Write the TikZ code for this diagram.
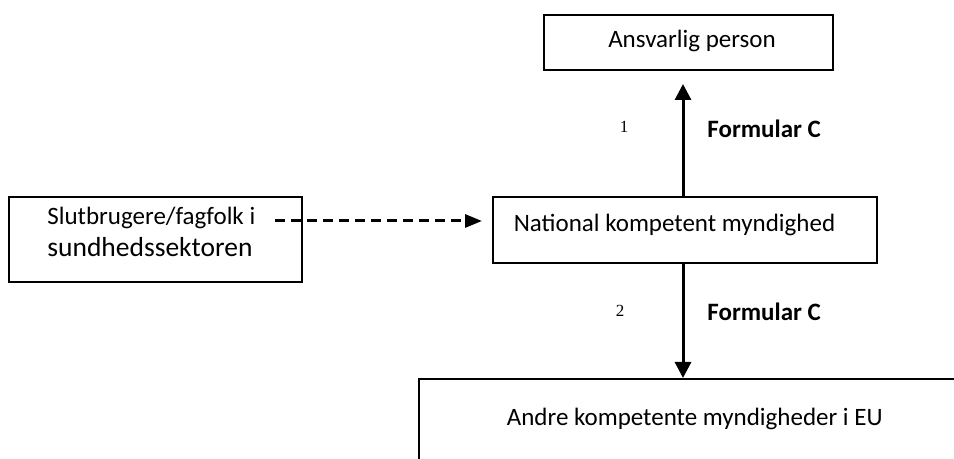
\documentclass[tikz,border=0pt]{standalone}
\usepackage{fontspec}
\setmainfont{Carlito}
\newfontfamily\numfont{Liberation Serif}
\usetikzlibrary{arrows.meta}
\begin{document}
\begin{tikzpicture}[x=0.5pt,y=-0.5pt,
  boxnode/.style={draw=black,line width=1pt,inner sep=0pt,fill=none},
  txt/.style={inner sep=0pt,font=\fontsize{12.5}{15}\selectfont},
  bigtxt/.style={inner sep=0pt,font=\fontsize{13.75}{16}\selectfont},
  numtxt/.style={inner sep=0pt,font=\numfont\fontsize{8.5}{10}\selectfont},
  formtxt/.style={inner sep=0pt,font=\bfseries\fontsize{12.5}{15}\selectfont},
  solidarrow/.style={line width=1.5pt,-{Triangle[length=8pt,width=8pt]}},
  dasharrow/.style={line width=1.5pt,dash pattern=on 5pt off 3pt,-{Triangle[length=8.5pt,width=6.5pt]}}]
\clip (0,0) rectangle (954,459);
\useasboundingbox (0,0) rectangle (954,459);
% boxes
\node[boxnode,minimum width=144.5pt,minimum height=27.5pt] (ans) at (688.5,42.5) {};
\node[boxnode,minimum width=192pt,minimum height=33pt] (nat) at (685,230) {};
\node[boxnode,minimum width=146.5pt,minimum height=42.5pt] (slut) at (155.5,239.5) {};
\node[boxnode,minimum width=290.5pt,minimum height=70.5pt] (andre) at (709.5,449.5) {};
% texts
\node[txt,anchor=base] (anst) at (692,48) {Ansvarlig person};
\node[txt,anchor=base] (natt) at (674.5,232) {National kompetent myndighed};
\node[txt,anchor=base west] (l1) at (47,225) {Slutbrugere/fagfolk i};
\node[bigtxt,anchor=base west] (l2) at (47,257) {sundhedssektoren};
\node[txt,anchor=base east] (andret) at (883,426) {Andre kompetente myndigheder i EU};
\node[numtxt,anchor=base] (n1) at (624,133) {1};
\node[numtxt,anchor=base] (n2) at (620,317) {2};
\node[formtxt,anchor=base west] (f1) at (707,138) {Formular C};
\node[formtxt,anchor=base west] (f2) at (707,321) {Formular C};
% connectors
\coordinate (ax) at (683,0);
\coordinate (ds) at (275,221);
\draw[solidarrow] (ax |- nat.north) -- ([yshift=-6.5pt]ax |- ans.south);
\draw[solidarrow] (ax |- nat.south) -- (ax |- andre.north);
\draw[dasharrow] (ds) -- ([xshift=-5pt]ds -| nat.west);
\end{tikzpicture}
\end{document}
